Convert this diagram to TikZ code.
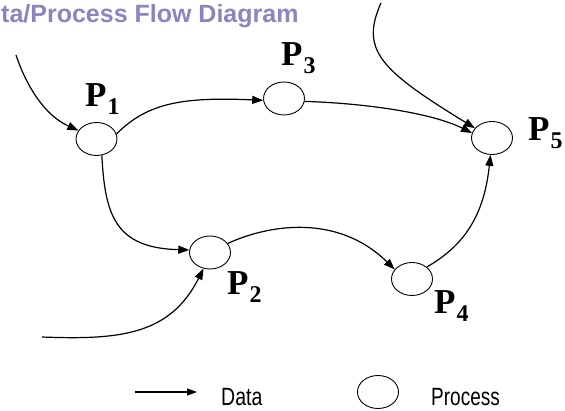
\documentclass[tikz,border=0pt]{standalone}
\usepackage{fontspec}
\usepackage{graphicx}
\setmainfont{Liberation Serif}
\newfontfamily\lsans{Liberation Sans}
\usetikzlibrary{shapes.geometric,arrows.meta}
\definecolor{titlepurple}{RGB}{140,132,190}
\newcommand\plab[1]{P\kern1pt\raisebox{-8pt}{\fontsize{24}{24}\selectfont #1}}
\begin{document}
\begin{tikzpicture}[x=1pt,y=-1pt,
  proc/.style={ellipse,draw,line width=0.9pt,minimum width=41pt,minimum height=33pt,inner sep=0pt},
  lbl/.style={inner sep=0pt,anchor=base west,font=\fontsize{35}{35}\selectfont\bfseries},
  legtext/.style={inner sep=0pt,anchor=base west,font=\lsans\fontsize{25}{25}\selectfont},
  flow/.style={line width=1.2pt,-{Triangle[length=11pt,width=8pt]}}]
\useasboundingbox (0,0) rectangle (565,411);
% title
\node[anchor=base west,inner sep=0pt,text=titlepurple,font=\lsans\fontsize{25}{25}\selectfont\bfseries] (title) at (1,23) {ta/Process Flow Diagram};
% processes
\node[proc] (p1) at (96.5,139) {};
\node[proc] (p3) at (284,98.5) {};
\node[proc] (p5) at (492,138) {};
\node[proc] (p2) at (210,252.5) {};
\node[proc] (p4) at (412,279) {};
% labels
\node[lbl] (l1) at (85,107) {\plab{1}};
\node[lbl] (l3) at (281,66) {\plab{3}};
\node[lbl] (l5) at (528,141) {\plab{5}};
\node[lbl] (l2) at (227,295) {\plab{2}};
\node[lbl] (l4) at (434,314) {\plab{4}};
% free ends
\coordinate (in1) at (16,55);
\coordinate (in5) at (381,3);
\coordinate (in2) at (42,337);
% connectors
\draw[flow] (in1) .. controls (26,85) and (44,115) .. (p1.155);
\draw[flow] (p1.14) .. controls (148,102) and (185,97) .. (p3.185);
\draw[flow] (p3.-8) .. controls (360,103) and (430,112) .. (p5.166);
\draw[flow] (in5) .. controls (360,50) and (380,70) .. (p5.150);
\draw[flow] (p4.39) .. controls (465,245) and (484,215) .. (p5.-95);
\draw[flow] (p1.-72) .. controls (105,215) and (115,248) .. (p2.173);
\draw[flow] (in2) .. controls (120,340) and (170,335) .. (p2.-112);
\draw[flow] (p2.27) .. controls (270,224) and (338,214) .. (p4.151);
% legend
\coordinate (la) at (135,392);
\coordinate (lb) at (197,392);
\draw[line width=1.2pt,-{Triangle[length=10pt,width=7pt]}] (la) -- (lb);
\node[legtext] (ldata) at (221,406) {\scalebox{0.78}[1]{Data}};
\node[proc] (lproc) at (378,392) {};
\node[legtext] (lprocess) at (431,406) {\scalebox{0.76}[1]{Process}};
\end{tikzpicture}
\end{document}
